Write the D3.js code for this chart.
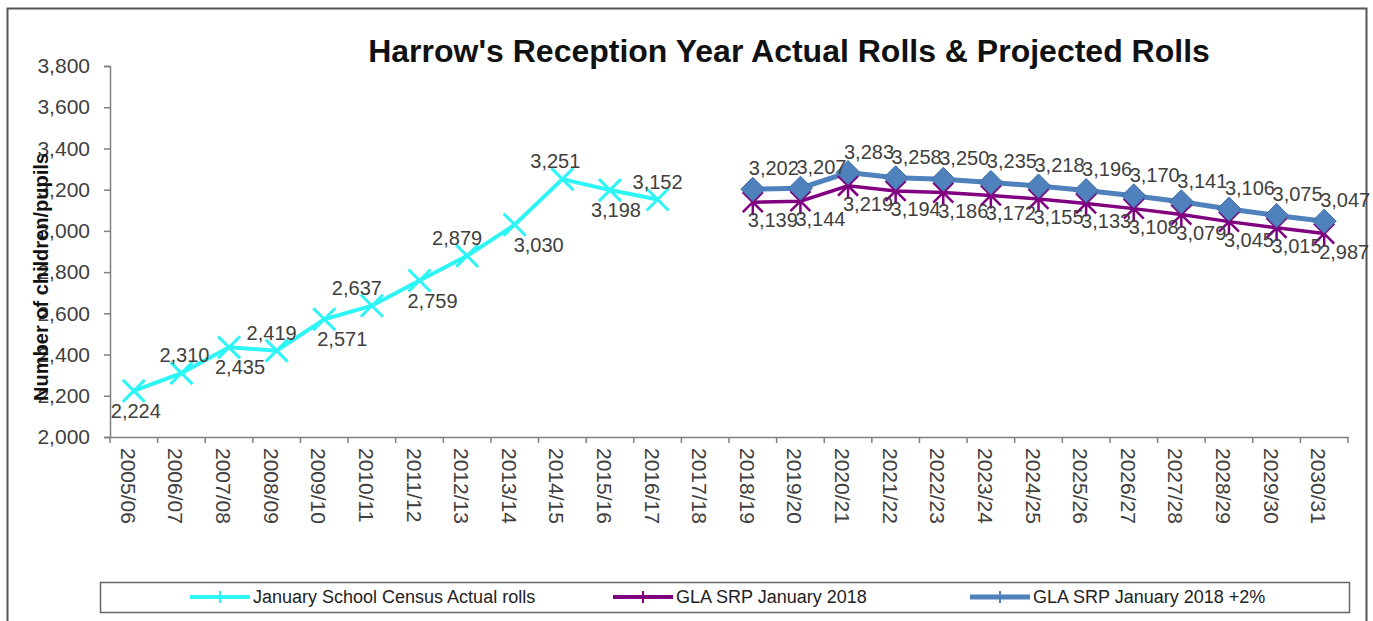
<!DOCTYPE html>
<html>
<head>
<meta charset="utf-8">
<script src="https://cdn.jsdelivr.net/npm/d3@7"></script>
<style>
  body { margin: 0; background: #fff; }
  text { font-family: "Liberation Sans", Arial, sans-serif; }
  .axis path, .axis line { stroke: #808080; stroke-width: 1.5; }
  .axis text { fill: #404040; font-size: 21px; }
  .label { fill: #404040; font-size: 20px; text-anchor: middle; dominant-baseline: central; }
</style>
</head>
<body>
<svg class="chart" width="1373" height="621"></svg>
<script>
// Academic years on the x axis
const years = ["2005/06", "2006/07", "2007/08", "2008/09", "2009/10", "2010/11", "2011/12",
    "2012/13", "2013/14", "2014/15", "2015/16", "2016/17", "2017/18", "2018/19", "2019/20",
    "2020/21", "2021/22", "2022/23", "2023/24", "2024/25", "2025/26", "2026/27", "2027/28",
    "2028/29", "2029/30", "2030/31"];

// January School Census actual rolls
const actualYears = years.slice(0, 12);
const actual = [2224, 2310, 2435, 2419, 2571, 2637, 2759, 2879, 3030, 3251, 3198, 3152];

// GLA projections
const projYears = years.slice(13);
const glaSrp = [3139, 3144, 3219, 3194, 3186, 3172, 3155, 3133, 3108, 3079, 3045, 3015, 2987];
const glaSrp2 = [3202, 3207, 3283, 3258, 3250, 3235, 3218, 3196, 3170, 3141, 3106, 3075, 3047];

const yTicks = [2000, 2200, 2400, 2600, 2800, 3000, 3200, 3400, 3600, 3800];

const svg = d3.select(".chart");
const fmt = d3.format(",");

// outer frame
svg.append("rect")
    .attr("x", 7.5).attr("y", 8.5)
    .attr("width", 1359).attr("height", 630)
    .attr("fill", "none").attr("stroke", "#555").attr("stroke-width", 2);

const x = d3.scaleBand().domain(years).range([110, 1348]).padding(0);
const y = d3.scaleLinear().domain([2000, 3800]).range([437, 66]);
const cx = d => x(d) + x.bandwidth() / 2;

// title
svg.append("text")
    .attr("x", 789).attr("y", 62)
    .attr("text-anchor", "middle")
    .style("font-size", "32px").style("font-weight", "bold").style("fill", "#111")
    .text("Harrow's Reception Year Actual Rolls & Projected Rolls");

// y axis
svg.append("g")
    .attr("class", "axis")
    .attr("transform", "translate(110,0)")
    .call(d3.axisLeft(y).tickValues(yTicks).tickFormat(fmt).tickSize(6).tickPadding(14));

svg.append("text")
    .attr("transform", "translate(48,277) rotate(-90)")
    .attr("text-anchor", "middle")
    .style("font-size", "20px").style("font-weight", "bold").style("fill", "#111")
    .text("Number of children/pupils");

// x axis with ticks between categories
const xAxis = svg.append("g")
    .attr("class", "axis")
    .attr("transform", "translate(0,437)")
    .call(d3.axisBottom(x).tickSize(0).tickPadding(0));

xAxis.selectAll(".tick text")
    .attr("transform", "translate(-13,11) rotate(90)")
    .attr("dy", 0)
    .attr("x", 0).attr("y", 0)
    .attr("text-anchor", "start");

xAxis.selectAll(".bound")
    .data(years.concat(["end"]))
    .enter().append("line")
    .attr("class", "bound")
    .attr("x1", (d, i) => 110 + i * x.bandwidth())
    .attr("x2", (d, i) => 110 + i * x.bandwidth())
    .attr("y1", 0).attr("y2", 6);

// marker shapes
function crossPath(s) {
    return `M${-s},${-s}L${s},${s}M${-s},${s}L${s},${-s}`;
}
function starPath(s) {
    return `M${-s},${-s}L${s},${s}M${-s},${s}L${s},${-s}M0,${-s * 1.3}L0,${s * 1.3}`;
}
function diamondPath(s) {
    return `M0,${-s}L${s},0L0,${s}L${-s},0Z`;
}

// actual rolls (cyan)
const lineA = d3.line().x((d, i) => cx(actualYears[i])).y(d => y(d));
svg.append("path")
    .datum(actual)
    .attr("d", lineA)
    .attr("fill", "none").attr("stroke", "#2ef5f5").attr("stroke-width", 4);

svg.selectAll(".mk.act")
    .data(actual)
    .enter().append("path")
    .attr("class", "mk act")
    .attr("transform", (d, i) => `translate(${cx(actualYears[i])},${y(d)})`)
    .attr("d", crossPath(11))
    .attr("stroke", "#2ef5f5").attr("stroke-width", 3).attr("fill", "none");

// label nudges as placed in the original
const actDx = [2, 3, 11, -5, 18, -15, 13, -10, 24, -7, 6, 0];
svg.selectAll(".label.act")
    .data(actual)
    .enter().append("text")
    .attr("class", "label act")
    .attr("x", (d, i) => cx(actualYears[i]) + actDx[i])
    .attr("y", (d, i) => y(d) + (i % 2 === 0 ? 20 : -18))
    .text(d => fmt(d));

// GLA SRP January 2018 +2% (blue)
const lineP = d3.line().x((d, i) => cx(projYears[i])).y(d => y(d));
svg.append("path")
    .datum(glaSrp2)
    .attr("d", lineP)
    .attr("fill", "none").attr("stroke", "#4f81bd").attr("stroke-width", 5);

// GLA SRP January 2018 (purple)
svg.append("path")
    .datum(glaSrp)
    .attr("d", lineP)
    .attr("fill", "none").attr("stroke", "#800080").attr("stroke-width", 3.5);

svg.selectAll(".mk.gla")
    .data(glaSrp)
    .enter().append("path")
    .attr("class", "mk gla")
    .attr("transform", (d, i) => `translate(${cx(projYears[i])},${y(d)})`)
    .attr("d", starPath(10))
    .attr("stroke", "#800080").attr("stroke-width", 2.5).attr("fill", "none");

svg.selectAll(".mk.gla2")
    .data(glaSrp2)
    .enter().append("path")
    .attr("class", "mk gla2")
    .attr("transform", (d, i) => `translate(${cx(projYears[i])},${y(d)})`)
    .attr("d", diamondPath(12))
    .attr("fill", "#4f81bd").attr("stroke", "#3f6fa8").attr("stroke-width", 1);

svg.selectAll(".label.gla")
    .data(glaSrp)
    .enter().append("text")
    .attr("class", "label gla")
    .attr("x", (d, i) => cx(projYears[i]) + 20)
    .attr("y", d => y(d) + 18)
    .text(d => fmt(d));

svg.selectAll(".label.gla2")
    .data(glaSrp2)
    .enter().append("text")
    .attr("class", "label gla2")
    .attr("x", (d, i) => cx(projYears[i]) + 21)
    .attr("y", d => y(d) - 21)
    .text(d => fmt(d));

// legend
const legend = svg.append("g").attr("class", "legend");
legend.append("rect")
    .attr("x", 100.5).attr("y", 582.5)
    .attr("width", 1249).attr("height", 30)
    .attr("fill", "#fff").attr("stroke", "#666").attr("stroke-width", 1.5);

const legendItems = [
    { name: "January School Census Actual rolls", color: "#2ef5f5", x: 190, w: 4 },
    { name: "GLA SRP January 2018", color: "#800080", x: 613, w: 4 },
    { name: "GLA SRP January 2018 +2%", color: "#4f81bd", x: 970, w: 5 }
];
legendItems.forEach(it => {
    legend.append("line")
        .attr("x1", it.x).attr("x2", it.x + 60)
        .attr("y1", 597).attr("y2", 597)
        .attr("stroke", it.color).attr("stroke-width", it.w);
    legend.append("line")
        .attr("x1", it.x + 30).attr("x2", it.x + 30)
        .attr("y1", 591).attr("y2", 603)
        .attr("stroke", it.color).attr("stroke-width", 2);
    legend.append("text")
        .attr("x", it.x + 63).attr("y", 597)
        .attr("dominant-baseline", "central")
        .style("font-size", "18px").style("fill", "#222")
        .text(it.name);
});
</script>
</body>
</html>
